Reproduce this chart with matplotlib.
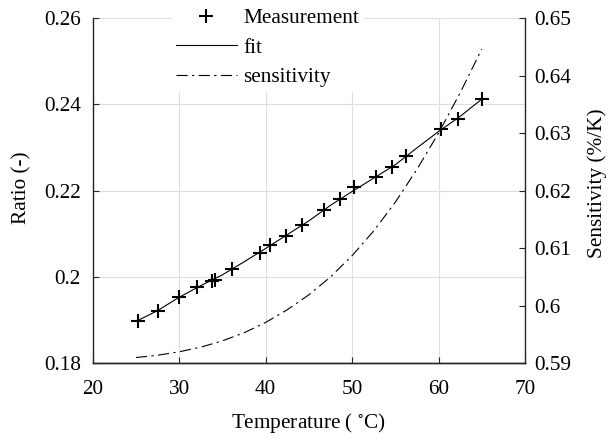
import matplotlib

matplotlib.use("Agg")
import matplotlib.pyplot as plt
from matplotlib.lines import Line2D

# measured points (temperature in degC, ratio)
temp_meas = [25.2, 27.5, 30.0, 32.1, 33.8, 34.2, 36.1, 39.4, 40.5, 42.4, 44.2,
             46.8, 48.6, 50.2, 52.8, 54.6, 56.2, 60.3, 62.2, 65.0]
ratio_meas = [0.1898, 0.1921, 0.1954, 0.1976, 0.1991, 0.1994, 0.2018, 0.2056,
              0.2074, 0.2095, 0.2120, 0.2155, 0.2180, 0.2208, 0.2231, 0.2254,
              0.2281, 0.2342, 0.2366, 0.2412]

# fit curve and derived sensitivity
temp_fit = [25, 27.5, 30, 32.5, 35, 37.5, 40, 42.5, 45, 47.5, 50, 52.5, 55,
            57.5, 60, 62.5, 65]
ratio_fit = [0.1897, 0.1922, 0.1953, 0.1980, 0.2005, 0.2035, 0.2066, 0.2098,
             0.2130, 0.2166, 0.2198, 0.2229, 0.2260, 0.2299, 0.2337, 0.2372,
             0.2412]
sens_fit = [0.5910, 0.5914, 0.5920, 0.5928, 0.5939, 0.5953, 0.5971, 0.5993,
            0.6019, 0.6050, 0.6087, 0.6130, 0.6180, 0.6237, 0.6300, 0.6370,
            0.6446]

x_ticks = [20, 30, 40, 50, 60, 70]
y_ticks = [0.18, 0.20, 0.22, 0.24, 0.26]
y_tick_labels = ["0.18", "0.2", "0.22", "0.24", "0.26"]
y2_ticks = [0.59, 0.60, 0.61, 0.62, 0.63, 0.64, 0.65]
y2_tick_labels = ["0.59", "0.6", "0.61", "0.62", "0.63", "0.64", "0.65"]

plt.rcParams["font.family"] = ["Liberation Serif", "DejaVu Serif"]
plt.rcParams["mathtext.fontset"] = "stix"
plt.rcParams["font.size"] = 15.3

axis_color = "#262626"
sens_style = (0, (10, 4, 2, 4))

fig = plt.figure(figsize=(6.08, 4.41), dpi=100)
ax = fig.add_axes([0.1525, 0.1762, 0.7110, 0.7830])
ax2 = ax.twinx()

ax.plot(temp_meas, ratio_meas, linestyle="none", marker="+", ms=10, mew=1.5,
        color="k", zorder=3)
ax.plot(temp_fit, ratio_fit, color="k", lw=0.8, zorder=2)
ax2.plot(temp_fit, sens_fit, color="k", lw=0.8, linestyle=sens_style)

ax.set_xlim(20, 70)
ax.set_ylim(0.18, 0.26)
ax2.set_ylim(0.59, 0.65)

ax.set_xticks(x_ticks)
ax.set_xticklabels([str(t) for t in x_ticks])
ax.set_yticks(y_ticks)
ax.set_yticklabels(y_tick_labels)
ax2.set_yticks(y2_ticks)
ax2.set_yticklabels(y2_tick_labels)

ax.grid(True, color="#dedede", lw=0.8)
ax.set_axisbelow(True)

for a in (ax, ax2):
    a.spines["top"].set_visible(False)
    for s in ("left", "right", "bottom"):
        a.spines[s].set_color(axis_color)
        a.spines[s].set_linewidth(1.0)
    a.tick_params(direction="in", length=4, width=0.8, colors=axis_color,
                  labelcolor="k")
ax.tick_params(top=False, right=False)
ax.tick_params(axis="x", pad=12)
ax.tick_params(axis="y", pad=8.5)
ax2.tick_params(axis="y", pad=6.5)
ax.spines["right"].set_visible(False)
ax2.spines["left"].set_visible(False)

ax.set_xlabel("Temperature ( $^{\\circ}$C)", va="center")
ax.xaxis.set_label_coords(0.5, (363.3 - 423) / 345.3)
ax.set_ylabel("Ratio (-)", va="center")
ax.yaxis.set_label_coords((21.7 - 92.7) / 432.3, (363.3 - 188) / 345.3)
ax2.set_ylabel("Sensitivity (%/K)", va="center")
ax2.yaxis.set_label_coords((596.7 - 92.7) / 432.3, (363.3 - 183) / 345.3)

handles = [
    Line2D([], [], linestyle="none", marker="+", ms=10, mew=1.5, color="k"),
    Line2D([], [], color="k", lw=0.8),
    Line2D([], [], color="k", lw=0.8, linestyle=sens_style),
]
fig.legend(handles, ["Measurement", "fit", "sensitivity"], loc="upper center",
           bbox_to_anchor=(0.44, 0.991), frameon=True, facecolor="white",
           edgecolor="white", framealpha=1, fancybox=False, handlelength=2.87,
           handletextpad=0.3, labelspacing=0.45, borderpad=0.2,
           borderaxespad=0)

fig.savefig("out.png", dpi=100)
